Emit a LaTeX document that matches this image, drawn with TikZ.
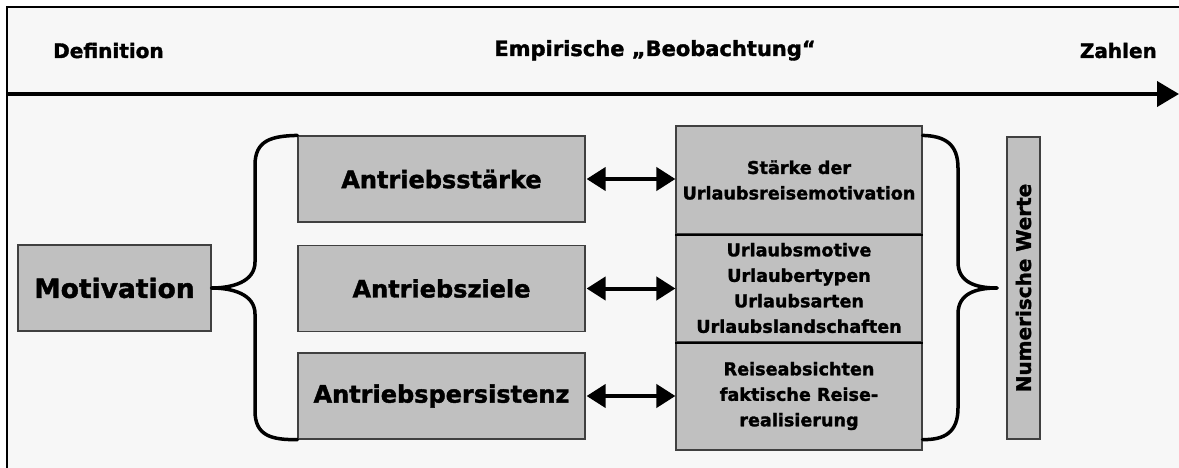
\documentclass[tikz,border=0pt]{standalone}
\usepackage{fontspec}
\setmainfont{DejaVu Sans}[BoldFeatures={FakeBold=1.6}]
\usetikzlibrary{arrows.meta}
\definecolor{panel}{HTML}{F7F7F7}
\definecolor{boxfill}{HTML}{C0C0C0}
\definecolor{boxline}{HTML}{404040}
\newcommand{\fsz}[1]{\fontsize{#1}{#1}\selectfont\bfseries}
\tikzset{
  box/.style={draw=boxline, line width=1.2pt, fill=boxfill, inner sep=0pt, align=center},
  head/.style={inner sep=0pt, font=\fsz{20}},
  brace/.style={line width=3.5pt, line cap=round, line join=round},
  dblarrow/.style={line width=4pt, {Triangle[length=19pt,width=23pt]}-{Triangle[length=19pt,width=23pt]}, shorten <=1pt},
  axis/.style={line width=4pt, -{Triangle[length=22pt,width=25pt]}},
  stack/.style={box, minimum width=246pt, minimum height=108pt, font=\fontsize{17.6}{25.5}\selectfont\bfseries},
  drive/.style={box, minimum width=287pt, minimum height=86pt, font=\fsz{24}},
}
\begin{document}
\begin{tikzpicture}[x=1pt, y=-1pt]
  \useasboundingbox (0,0) rectangle (1179,468);
  \fill[white] (0,0) rectangle (1179,468);
  % panel with frame on top and left
  \fill[panel] (7,7) rectangle (1179,468);
  \draw[line width=1.5pt] (7,468) -- (7,7) -- (1179,7);

  % headings above the axis
  \node[head, anchor=base west] (def) at (53,58) {Definition};
  \node[head, font=\fsz{21}, anchor=base] (emp) at (655,56) {Empirische „Beobachtung“};
  \node[head, anchor=base east] (zah) at (1157,58) {Zahlen};

  % axis
  \coordinate (axL) at (7,94);
  \coordinate (axR) at (1179,94);
  \draw[axis] (axL) -- (axR);

  % concept
  \node[box, minimum width=193pt, minimum height=86pt, font=\fsz{26.5}] (mot) at (114.5,288) {Motivation};

  % drive dimensions
  \node[drive] (a1) at (441.5,179) {Antriebsstärke};
  \node[drive] (a2) at (441.5,288.5) {Antriebsziele};
  \node[drive] (a3) at (441.5,396) {Antriebspersistenz};

  % empirical indicators
  \node[stack] (r1) at (799,180) {Stärke der\\Urlaubsreisemotivation};
  \node[stack] (r2) at (799,288) {Urlaubsmotive\\Urlaubertypen\\Urlaubsarten\\Urlaubslandschaften};
  \node[stack] (r3) at (799,396) {Reiseabsichten\\faktische Reise-\\realisierung};
  \draw[line width=1.8pt] (r1.south west) -- (r1.south east);
  \draw[line width=1.8pt] (r2.south west) -- (r2.south east);

  % numeric values
  \node[box, minimum width=33pt, minimum height=302pt] (num) at (1023.5,288) {};
  \node[rotate=90, font=\fsz{20}, inner sep=0pt] (numt) at (num.center) {Numerische Werte};

  % correspondence arrows
  \draw[dblarrow] (a1.east) -- (a1.east -| r1.west);
  \draw[dblarrow] (a2.east) -- (a2.east -| r2.west);
  \draw[dblarrow] (a3.east) -- (a3.east -| r3.west);

  % left brace
  \draw[brace] (a1.north west)
    .. controls (272,136) and (255,140) .. (255,165)
    -- (255,262)
    .. controls (255,282) and (232,288) .. (mot.east);
  \draw[brace] (a3.south west)
    .. controls (272,440) and (255,436) .. (255,411)
    -- (255,314)
    .. controls (255,294) and (232,288) .. (mot.east);

  % right brace
  \coordinate (tip) at (997,288);
  \draw[brace] (r1.north east |- a1.north)
    .. controls (945,136) and (958,144) .. (958,168)
    -- (958,262)
    .. controls (958,282) and (975,288) .. (tip);
  \draw[brace] (r3.south east |- a3.south)
    .. controls (945,440) and (958,432) .. (958,408)
    -- (958,314)
    .. controls (958,294) and (975,288) .. (tip);
\end{tikzpicture}
\end{document}
